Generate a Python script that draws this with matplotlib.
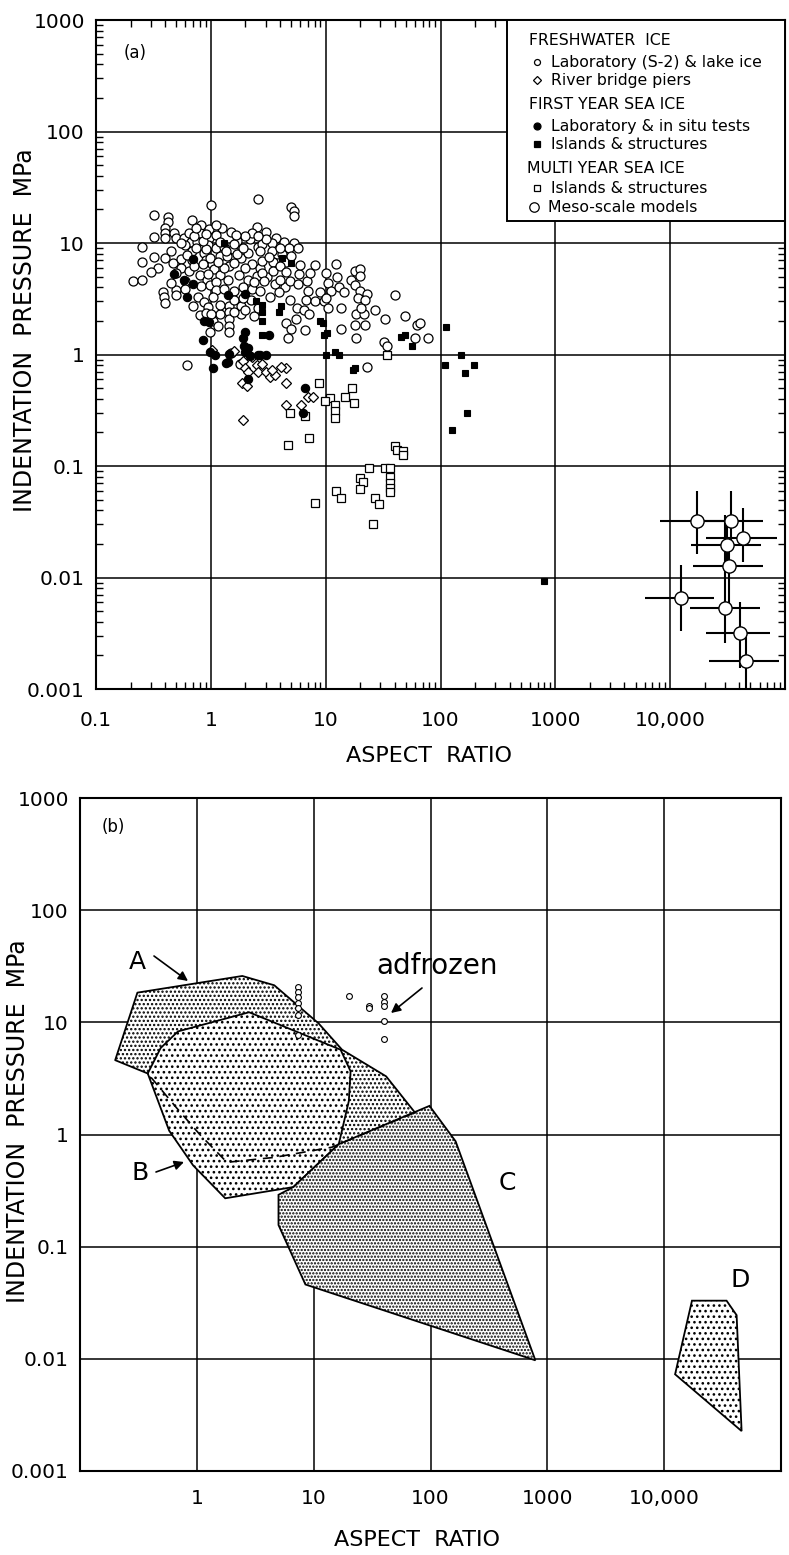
import matplotlib
matplotlib.use("Agg")
import numpy as np
import matplotlib.pyplot as plt
from matplotlib.patches import Polygon, Rectangle
from matplotlib.ticker import LogLocator, NullFormatter, NullLocator

plt.rcParams['font.family'] = ['DejaVu Sans']
plt.rcParams['hatch.linewidth'] = 1.1

# ---------------------------------------------------------------- data (a)
# Freshwater ice: laboratory (S-2) & lake ice  (aspect ratio, pressure MPa)
lake_ice_pts = [
    (1.0, 22), (0.32, 17.8), (0.42, 17), (0.42, 15.5), (0.68, 16), (0.82, 14.5),
    (0.97, 13.3), (2.55, 25), (2.5, 14), (0.32, 11.3), (0.40, 13.5), (0.40, 12.2),
    (0.40, 11), (0.48, 12.4), (0.50, 11), (0.58, 11), (0.65, 12.4), (0.67, 10.3),
    (0.80, 12.4), (0.76, 10.3), (0.97, 11), (0.95, 9.5), (1.12, 11.9), (1.7, 10.5),
    (0.25, 9.2), (0.32, 7.5), (0.25, 6.8), (0.21, 4.6), (0.25, 4.7),
    (0.40, 7.3), (0.47, 6.6), (0.55, 7.2), (0.68, 8.4), (0.68, 7.0), (0.87, 8.2),
    (0.90, 7.0), (1.02, 6.5), (1.06, 5.8), (0.98, 7.4), (1.2, 7.7), (1.37, 7.7),
    (1.45, 6.2), (1.83, 7.3), (2.1, 8.2), (2.6, 9.3),
    (0.55, 6.0), (0.65, 5.6), (0.80, 5.2), (0.92, 4.7), (0.82, 4.1), (0.98, 4.2),
    (1.2, 5.2), (1.4, 4.7), (1.75, 5.2), (2.1, 4.7), (2.5, 5.1),
    (0.38, 3.6), (0.39, 3.3), (0.40, 2.9), (0.50, 3.8), (0.50, 3.4),
    (0.77, 3.3), (0.87, 2.95), (0.95, 2.65), (0.80, 2.25),
    (1.2, 2.3), (1.43, 2.7), (1.43, 2.4), (1.43, 2.1), (1.43, 1.8), (1.43, 1.6),
    (1.83, 2.7), (1.83, 2.3), (2.25, 3.1), (0.98, 1.6), (0.62, 0.8), (1.5, 1.03),
    (1.8, 0.83),
    (0.60, 9.5), (0.75, 9.0), (0.90, 8.8), (1.1, 9.0), (1.3, 9.3), (1.55, 8.8),
    (1.7, 8.0), (2.3, 6.5), (2.0, 6.0), (1.6, 6.6), (1.3, 6.0), (0.72, 6.2),
    (0.60, 4.6), (1.1, 4.5), (1.1, 3.8), (1.3, 3.9), (1.6, 3.7), (1.9, 4.0),
    (2.3, 3.9), (0.60, 3.9), (0.70, 2.7), (0.90, 2.35), (1.05, 2.0), (1.05, 3.3),
    (1.6, 3.1), (2.0, 2.5), (2.4, 2.2), (0.45, 8.5), (0.55, 10.0), (0.35, 6.0),
    (0.50, 5.4), (1.25, 13.5), (1.5, 12.5), (1.2, 10.2), (0.85, 10.5), (2.2, 10.8),
    (2.3, 12.4), (0.90, 12.0),
    (0.62, 7.8), (0.72, 11.5), (0.85, 6.5), (0.95, 5.3), (1.15, 6.8), (1.35, 8.5),
    (1.6, 9.8), (1.9, 9.0), (2.0, 11.5), (1.65, 11.8), (1.1, 14.5), (0.75, 13.5),
    (2.7, 6.0), (3.1, 5.0), (3.3, 3.3), (3.6, 4.3), (4.4, 4.0), (3.8, 8.0),
    (4.5, 6.8), (2.4, 4.5), (1.9, 3.2), (1.2, 2.8), (1.6, 2.4), (2.6, 2.6),
    (0.45, 4.4), (0.30, 5.5), (1.0, 2.3), (1.15, 1.8),
    (5.0, 21), (5.3, 19.5), (5.3, 17.3), (3.0, 12.6), (3.7, 11.0), (4.3, 10.3),
    (5.3, 10.0), (2.8, 9.8), (3.4, 9.9), (2.7, 8.4), (3.4, 8.4), (2.8, 6.9),
    (3.5, 6.7), (4.2, 7.9), (4.8, 9.0), (5.0, 7.6), (5.7, 9.1),
    (2.8, 5.4), (3.5, 5.6), (2.9, 4.6), (4.0, 4.7), (4.9, 4.6), (5.8, 5.3),
    (2.7, 3.7), (3.9, 3.6), (4.9, 3.1), (8.0, 6.4),
    (5.7, 4.3), (6.9, 4.6), (7.0, 3.7), (6.7, 3.1), (8.0, 3.0), (9.0, 3.6),
    (10, 5.4), (10.5, 4.4), (12.2, 6.5), (12.5, 5.0), (11.2, 3.7), (9.7, 3.0),
    (10.5, 2.6), (10, 3.2), (13, 4.0), (14.3, 3.6), (13.5, 2.6),
    (5.6, 2.6), (6.5, 2.5), (7.2, 2.3), (5.5, 2.1), (4.5, 1.9), (5.0, 1.7),
    (6.6, 1.65), (4.7, 1.4),
    (13.5, 1.7), (18.5, 1.4), (18, 1.85), (22, 1.85), (18.5, 2.3), (21.5, 2.3),
    (18, 5.6), (20, 5.8), (20, 5.1), (16.5, 4.7), (18, 4.2), (20, 3.7), (19, 3.2),
    (23, 3.5), (22, 3.1), (20.5, 2.6),
    (27, 2.5), (33, 2.1), (40, 3.4), (49, 2.2), (62, 1.85), (78, 1.4), (60, 1.4),
    (32, 1.3), (23, 0.78), (34, 1.2), (66, 1.9),
    (3.2, 7.5), (4.0, 6.2), (4.5, 5.5), (3.0, 10.8), (4.0, 9.0), (2.6, 11.5),
    (6.0, 6.3), (7.3, 5.4),
]

# Freshwater ice: river bridge piers
bridge_pier_pts = [
    (1.03, 1.1), (1.6, 1.07), (1.9, 0.87), (2.0, 0.75), (2.3, 0.95), (2.5, 0.81),
    (2.8, 0.83), (2.6, 0.69), (2.1, 0.69), (1.85, 0.55), (2.05, 0.52), (3.0, 0.69),
    (3.3, 0.63), (3.6, 0.65), (3.4, 0.72), (4.5, 0.75), (4.5, 0.55), (7.0, 0.42),
    (4.5, 0.35), (6.1, 0.35), (1.9, 0.26), (4.1, 0.78), (7.8, 0.42),
]

# First-year sea ice: laboratory & in situ tests
fy_lab_pts = [
    (0.70, 7.2), (0.48, 5.3), (0.58, 4.7), (0.70, 4.3), (0.62, 3.3), (1.4, 3.4),
    (2.0, 3.5), (0.87, 2.0), (0.96, 1.95), (0.85, 1.35), (0.98, 1.05), (1.9, 1.4),
    (1.95, 1.2), (2.0, 1.05), (1.42, 0.85), (2.6, 1.0), (1.08, 1.0), (1.05, 0.75),
    (1.45, 1.02), (1.35, 0.84), (2.1, 0.6), (3.0, 1.0), (3.2, 1.5), (6.6, 0.5),
    (6.4, 0.3), (2.2, 0.97), (2.0, 1.6), (2.1, 1.15), (2.7, 1.0),
]

# First-year sea ice: islands & structures
fy_struct_pts = [
    (1.3, 10), (2.45, 3.0), (2.8, 2.8), (2.8, 2.4), (2.8, 2.0), (4.2, 7.3),
    (5.0, 6.6), (4.1, 2.7), (3.9, 2.4), (9.0, 2.0), (9.5, 1.9), (9.7, 1.5),
    (2.8, 1.5), (10, 1.0), (12, 1.05), (13, 0.98), (18, 0.75), (45, 1.45),
    (49, 1.5), (56, 1.2), (112, 1.75), (150, 1.0), (110, 0.8), (165, 0.68),
    (195, 0.8), (170, 0.3), (125, 0.21), (800, 0.0093), (10.2, 1.55), (17.3, 0.72),
]

# Multi-year sea ice: islands & structures
my_struct_pts = [
    (34, 1.0), (4.9, 0.30), (6.6, 0.28), (8.8, 0.55), (11, 0.41), (12, 0.35),
    (12, 0.31), (12, 0.27), (14.7, 0.42), (17, 0.5), (17.8, 0.37), (7.2, 0.18),
    (4.7, 0.155), (40, 0.15), (42, 0.14), (47, 0.135), (47, 0.126), (24, 0.095),
    (33, 0.095), (36, 0.095), (36, 0.08), (36, 0.07), (36, 0.064), (36, 0.058),
    (20, 0.078), (21, 0.072), (20, 0.062), (12.2, 0.06), (13.5, 0.052),
    (8.0, 0.047), (27, 0.052), (29, 0.046), (26, 0.030), (9.9, 0.38),
]

# Multi-year sea ice: meso-scale models with ranges
meso_x = np.array([17100, 33600, 43100, 31400, 32300, 12400, 30300, 40400, 46100])
meso_y = np.array([0.032, 0.032, 0.0226, 0.0195, 0.0127, 0.0066, 0.0053, 0.0032, 0.0018])
meso_x_lo = np.array([8100, 19800, 20400, 15100, 15900, 6000, 14900, 20400, 21600])
meso_x_hi = np.array([30000, 64500, 85000, 62000, 64500, 24000, 60000, 74000, 89000])
meso_y_lo = np.array([0.0164, 0.018, 0.0138, 0.012, 0.0053, 0.0033, 0.0026, 0.00155, 0.001])
meso_y_hi = np.array([0.060, 0.060, 0.042, 0.032, 0.020, 0.0129, 0.036, 0.006, 0.0032])

# ---------------------------------------------------------------- data (b)
region_a_outline = [(0.38, 3.5), (0.2, 4.6), (0.31, 18.4), (2.45, 25.9), (4.6, 21.4),
                    (11, 9.8), (17.5, 5.7), (41.7, 3.3), (73.6, 1.57)]
region_a_lower = [(73.6, 1.57), (14.3, 0.77), (4.6, 0.625), (1.81, 0.565),
                  (1.06, 1.0), (0.67, 1.73), (0.38, 3.5)]
region_b = [(0.38, 3.5), (0.49, 5.9), (0.69, 8.3), (2.8, 12.3), (17, 5.7),
            (20.7, 3.66), (20, 1.99), (16.4, 0.82), (6.7, 0.34), (1.75, 0.27),
            (0.93, 0.53), (0.58, 1.08)]
region_c = [(5.0, 0.29), (6.7, 0.34), (16.4, 0.82), (98, 1.8), (164, 0.87),
            (790, 0.0097), (8.5, 0.046), (5.0, 0.156)]
region_d = [(17300, 0.033), (34200, 0.033), (41700, 0.0245), (46000, 0.00227),
            (12400, 0.00728)]
adfrozen_pts = [(7.4, 20.8), (7.4, 18.7), (7.4, 16.8), (7.4, 14.9), (7.4, 13.4),
                (7.4, 11.6), (7.4, 7.7), (20, 17), (30, 14.1), (30, 13.3),
                (40, 17), (40, 15.3), (40, 13.9), (40, 10.2), (40, 7.1)]

# ---------------------------------------------------------------- axes labels
x_ticks = [0.1, 1, 10, 100, 1000, 10000, 100000]
x_ticklabels_a = ['0.1', '1', '10', '100', '1000', '10,000', '']
x_ticklabels_b = ['', '1', '10', '100', '1000', '10,000', '']
y_ticks = [0.001, 0.01, 0.1, 1, 10, 100, 1000]
y_ticklabels = ['0.001', '0.01', '0.1', '1', '10', '100', '1000']

W, H = 789, 1555
fig = plt.figure(figsize=(W / 100, H / 100), dpi=100)


def box(l, t, r, b):
    return [l / W, 1 - b / H, (r - l) / W, (b - t) / H]


ax1 = fig.add_axes(box(96, 20, 785, 689))
ax2 = fig.add_axes(box(80, 798, 781, 1471))

for ax, xl, xpad in ((ax1, x_ticklabels_a, 16), (ax2, x_ticklabels_b, 13)):
    ax.set_xscale('log')
    ax.set_yscale('log')
    ax.set_xlim(0.1, 1e5)
    ax.set_ylim(1e-3, 1e3)
    ax.set_xticks(x_ticks)
    ax.set_xticklabels(xl)
    ax.set_yticks(y_ticks)
    ax.set_yticklabels(y_ticklabels)
    ax.grid(True, which='major', color='black', linewidth=1.1)
    ax.tick_params(which='major', length=0, labelsize=14.5, colors='black')
    ax.tick_params(axis='x', which='major', pad=xpad)
    ax.tick_params(axis='y', which='major', pad=8)
    for s in ax.spines.values():
        s.set_linewidth(1.5)

# minor ticks (inside, all four sides) only on the upper panel
ax1.xaxis.set_minor_locator(LogLocator(base=10, subs=np.arange(2, 10), numticks=30))
ax1.yaxis.set_minor_locator(LogLocator(base=10, subs=np.arange(2, 10), numticks=30))
ax1.xaxis.set_minor_formatter(NullFormatter())
ax1.yaxis.set_minor_formatter(NullFormatter())
ax1.tick_params(which='minor', direction='in', length=5, width=1.0,
                top=True, right=True, bottom=True, left=True)
ax2.xaxis.set_minor_locator(NullLocator())
ax2.yaxis.set_minor_locator(NullLocator())


def split(pts):
    a = np.array(pts, dtype=float)
    return a[:, 0], a[:, 1]


# ---------------------------------------------------------------- panel (a)
x, y = split(lake_ice_pts)
ax1.plot(x, y, 'o', ms=6.5, mfc='white', mec='black', mew=0.9, zorder=3)
x, y = split(bridge_pier_pts)
ax1.plot(x, y, 'D', ms=4.8, mfc='white', mec='black', mew=0.9, zorder=3.1)
x, y = split(my_struct_pts)
ax1.plot(x, y, 's', ms=5.5, mfc='white', mec='black', mew=0.9, zorder=3.1)
x, y = split(fy_lab_pts)
ax1.plot(x, y, 'o', ms=6.0, mfc='black', mec='black', mew=0.8, zorder=3.3)
x, y = split(fy_struct_pts)
ax1.plot(x, y, 's', ms=5.0, mfc='black', mec='black', mew=0.8, zorder=3.3)

ax1.errorbar(meso_x, meso_y,
             xerr=[meso_x - meso_x_lo, meso_x_hi - meso_x],
             yerr=[meso_y - meso_y_lo, meso_y_hi - meso_y],
             fmt='none', ecolor='black', elinewidth=1.5, capsize=0, zorder=3.5)
ax1.plot(meso_x, meso_y, 'o', ms=9.5, mfc='white', mec='black', mew=1.0, zorder=3.6)

ax1.text(0.057, 0.951, '(a)', transform=ax1.transAxes, fontsize=12,
         ha='center', va='center')


# legend box drawn in axes fractions
def a_frac(px, py):
    return (px - 96) / 689, (689 - py) / 669


lx0, ly0 = a_frac(507, 221)
ax1.add_patch(Rectangle((lx0, ly0), 1 - lx0, 1 - ly0, transform=ax1.transAxes,
                        facecolor='white', edgecolor='black', linewidth=1.4,
                        zorder=5, clip_on=False))

headers = [('FRESHWATER  ICE', 529, 40), ('FIRST YEAR SEA ICE', 529, 104),
           ('MULTI YEAR SEA ICE', 527, 168)]
for txt, px, py in headers:
    fx, fy = a_frac(px, py)
    ax1.text(fx, fy, txt, transform=ax1.transAxes, fontsize=11.3,
             ha='left', va='center', zorder=6)

entries = [
    (dict(marker='o', ms=4.3, mfc='white'), 'Laboratory (S-2) & lake ice', 537, 551, 62),
    (dict(marker='D', ms=3.6, mfc='white'), 'River bridge piers', 537, 551, 80),
    (dict(marker='o', ms=5.0, mfc='black'), 'Laboratory & in situ tests', 537, 551, 126),
    (dict(marker='s', ms=4.2, mfc='black'), 'Islands & structures', 537, 551, 144),
    (dict(marker='s', ms=4.2, mfc='white'), 'Islands & structures', 537, 551, 188),
    (dict(marker='o', ms=6.8, mfc='white'), 'Meso-scale models', 534, 548, 207),
]
for style, txt, mx, tx, py in entries:
    fx, fy = a_frac(mx, py)
    ax1.plot([fx], [fy], transform=ax1.transAxes, linestyle='none', mec='black',
             mew=0.9, zorder=6, clip_on=False, **style)
    fx, fy = a_frac(tx, py)
    ax1.text(fx, fy, txt, transform=ax1.transAxes, fontsize=11.3,
             ha='left', va='center', zorder=6)

# ---------------------------------------------------------------- panel (b)
ax2.add_patch(Polygon(region_a_outline + region_a_lower[1:-1], closed=True,
                      facecolor='white', edgecolor='black', hatch='....',
                      linewidth=0, zorder=2))
ax2.add_patch(Polygon(region_b, closed=True, facecolor='white', edgecolor='black',
                      hatch='...', linewidth=1.3, zorder=2.2))
ax2.add_patch(Polygon(region_c, closed=True, facecolor='white', edgecolor='black',
                      hatch='.....', linewidth=1.3, zorder=2.4))
ax2.add_patch(Polygon(region_d, closed=True, facecolor='white', edgecolor='black',
                      hatch='...', linewidth=1.3, zorder=2.4))
x, y = split(region_a_outline)
ax2.plot(x, y, color='black', linewidth=1.3, zorder=2.6)
x, y = split(region_a_lower)
ax2.plot(x, y, color='black', linewidth=1.2, linestyle=(0, (6, 4)), zorder=2.6)

x, y = split(adfrozen_pts)
ax2.plot(x, y, 'o', ms=4.2, mfc='white', mec='black', mew=0.8, zorder=3)


def b_frac(px, py):
    return (px - 80) / 701, (1471 - py) / 673


for txt, px, py, size in [('(b)', 113, 827, 12), ('A', 137, 962, 18),
                          ('B', 140, 1173, 18), ('C', 507, 1183, 18),
                          ('D', 740, 1280, 18), ('adfrozen', 437, 966, 20)]:
    fx, fy = b_frac(px, py)
    ax2.text(fx, fy, txt, transform=ax2.transAxes, fontsize=size,
             ha='center', va='center', zorder=4)

for (tx, ty), (hx, hy) in [((154, 956), (188, 981)), ((156, 1172), (184, 1162)),
                           ((422, 988), (391, 1013))]:
    ax2.annotate('', xy=b_frac(hx, hy), xytext=b_frac(tx, ty),
                 xycoords='axes fraction', textcoords='axes fraction',
                 arrowprops=dict(arrowstyle='-|>', color='black', lw=1.2,
                                 mutation_scale=14, shrinkA=0, shrinkB=0),
                 zorder=4)

# axis titles
fig.text(429 / W, 1 - 756 / H, 'ASPECT  RATIO', fontsize=16, ha='center', va='center')
fig.text(417 / W, 1 - 1540 / H, 'ASPECT  RATIO', fontsize=16, ha='center', va='center')
fig.text(25 / W, 1 - 330 / H, 'INDENTATION  PRESSURE  MPa', fontsize=17,
         rotation=90, ha='center', va='center')
fig.text(18 / W, 1 - 1121 / H, 'INDENTATION  PRESSURE  MPa', fontsize=17,
         rotation=90, ha='center', va='center')

fig.savefig('out.png', dpi=100, facecolor='white')
